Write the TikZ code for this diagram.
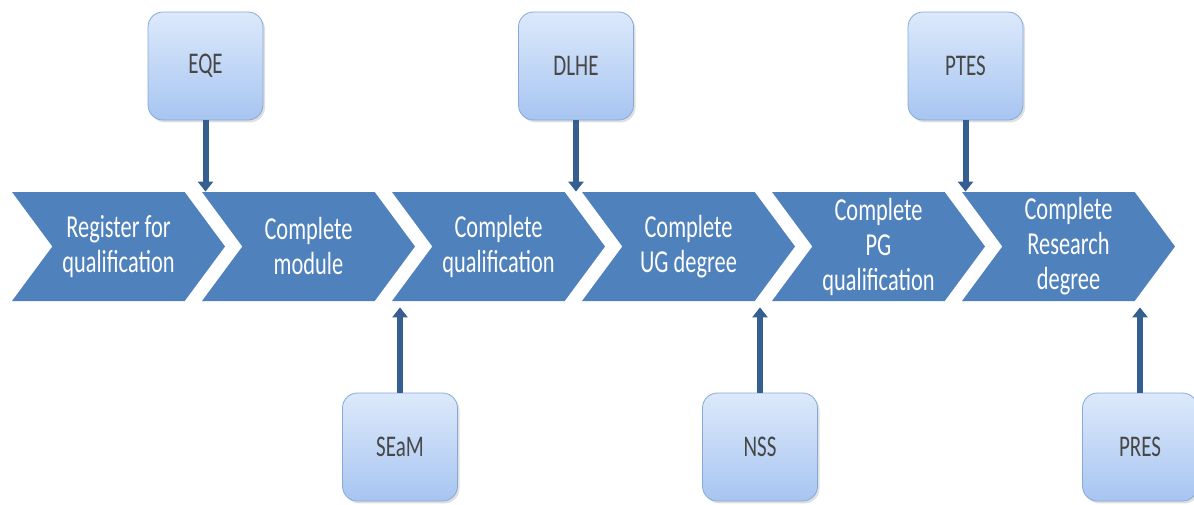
\documentclass[tikz,border=0pt]{standalone}
\usepackage{fontspec}
\setmainfont[FakeStretch=0.7]{Carlito}
\usepackage{xcolor}
\usetikzlibrary{positioning,arrows.meta,shapes.symbols,shadows}

\definecolor{stepblue}{HTML}{4F81BD}
\definecolor{linkblue}{HTML}{355E91}
\definecolor{boxtop}{HTML}{DDE9FB}
\definecolor{boxbottom}{HTML}{A7C5F1}
\definecolor{boxedge}{HTML}{86A9DA}

\begin{document}
\begin{tikzpicture}[
      x=0.5pt, y=-0.5pt,
      chev/.style={signal, signal to=east, signal from=west, signal pointer angle=107, fill=stepblue, minimum width=106.5pt, minimum height=54.5pt, inner sep=0pt, align=center, text=white, font=\fontsize{16}{17.5}\selectfont},
      survey/.style={draw=boxedge, rounded corners=7.5pt, top color=boxtop, bottom color=boxbottom, minimum width=57.5pt, minimum height=54pt, font=\fontsize{15}{17}\selectfont, text=black!72, drop shadow={shadow xshift=1pt, shadow yshift=-1.2pt, opacity=0.25}},
      arr/.style={-{Triangle[length=5pt, width=7.5pt]}, line width=3pt, draw=linkblue}
  ]
    \useasboundingbox (0,0) rectangle (1194,504);
    \node[chev] (register) at (118.5,246.5) {Register for\\qualification};
    \node[chev] (module) at (308.5,246.5) {Complete\\module};
    \node[chev] (qualif) at (498.5,246.5) {Complete\\qualification};
    \node[chev] (ugdeg) at (688.5,246.5) {Complete\\UG degree};
    \node[chev] (pgqual) at (878.5,246.5) {Complete\\PG\\qualification};
    \node[chev] (resdeg) at (1068.5,246.5) {Complete\\Research\\degree};
    \node[survey] (eqe) at (205.5,66) {EQE};
    \node[survey] (dlhe) at (576,66) {DLHE};
    \node[survey] (ptes) at (965.5,66) {PTES};
    \node[survey] (seam) at (400,447) {SEaM};
    \node[survey] (nss) at (760,447) {NSS};
    \node[survey] (pres) at (1140,447) {PRES};
    \draw[arr] (eqe.south) -- (eqe.south |- module.north);
    \draw[arr] (dlhe.south) -- (dlhe.south |- ugdeg.north);
    \draw[arr] (ptes.south) -- (ptes.south |- resdeg.north);
    \draw[arr, shorten >=3pt] (seam.north) -- (seam.north |- qualif.south);
    \draw[arr, shorten >=3pt] (nss.north) -- (nss.north |- pgqual.south);
    \draw[arr, shorten >=3pt] (pres.north) -- (pres.north |- resdeg.south);
  \end{tikzpicture}
\end{document}
